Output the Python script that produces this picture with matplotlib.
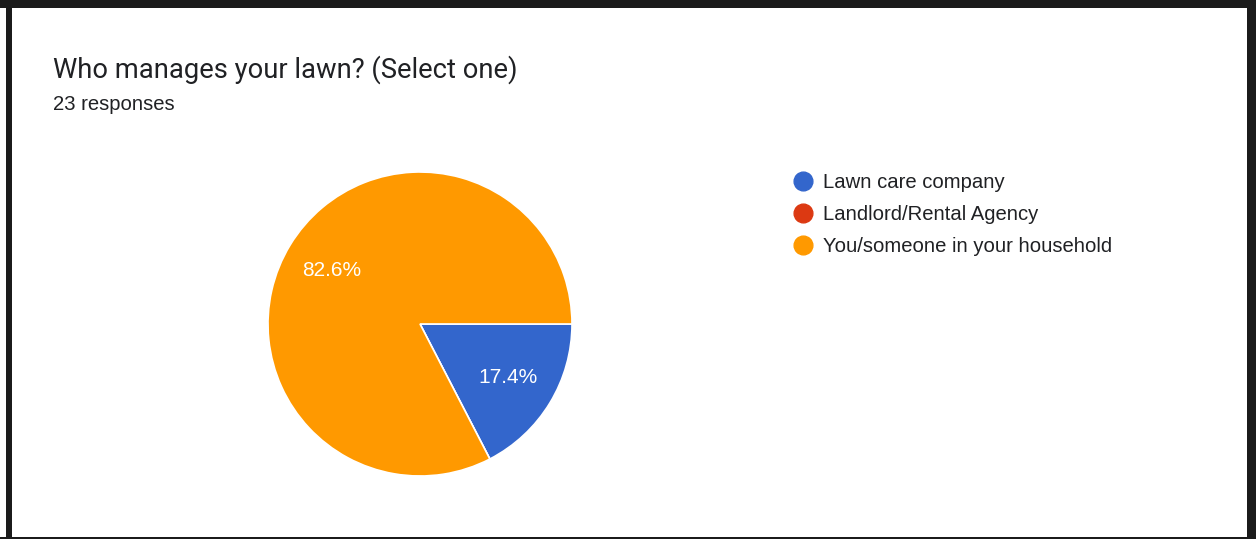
import matplotlib
matplotlib.use("Agg")
import matplotlib.pyplot as plt
from matplotlib.patches import Rectangle
from matplotlib.lines import Line2D

# Data
categories = ["Lawn care company", "Landlord/Rental Agency", "You/someone in your household"]
values = [17.4, 0.0, 82.6]
colors = ["#3366CC", "#DC3912", "#FF9900"]
title = "Who manages your lawn? (Select one)"
subtitle = "23 responses"

W, H = 1256, 539
fig = plt.figure(figsize=(W / 100, H / 100), dpi=100)
fig.patch.set_facecolor("white")

def fx(px):
    return px / W

def fy(py):
    return 1 - py / H

# Border (dark frame)
dark = "#1b1b1b"
for (x0, y0, x1, y1) in [(0, 0, W, 8), (6, 0, 12, H), (1247, 0, W, H), (0, 537, W, H)]:
    fig.add_artist(Rectangle((fx(x0), fy(y1)), fx(x1) - fx(x0), fy(y0) - fy(y1),
                             transform=fig.transFigure, facecolor=dark, edgecolor="none", zorder=10))

# Title
fig.text(fx(53), fy(70), title, fontsize=19.7, family="Roboto", color="#202124",
         va="center", ha="left")
fig.text(fx(53), fy(104), subtitle, fontsize=14.6, family="Liberation Sans", color="#202124",
         va="center", ha="left")

# Pie
cx, cy, r = 420, 324, 152
ax = fig.add_axes([fx(cx - r), fy(cy + r), fx(2 * r), (2 * r) / H])
wedges, texts, autotexts = ax.pie(
    values, colors=colors, startangle=0, counterclock=False,
    autopct=lambda p: f"{p:.1f}%" if p > 0 else "", pctdistance=0.68,
    wedgeprops=dict(edgecolor="white", linewidth=1.2),
    textprops=dict(color="white", fontsize=15, family="Liberation Sans"))
ax.set_xlim(-1, 1)
ax.set_ylim(-1, 1)
ax.set_aspect("equal")
ax.axis("off")

# Legend
lx, ly0, dy = 803, 181, 32
for i, (lab, col) in enumerate(zip(categories, colors)):
    yy = ly0 + i * dy
    fig.add_artist(Line2D([fx(lx)], [fy(yy)], marker="o", markersize=13.5,
                          markerfacecolor=col, markeredgecolor=col, linestyle="none",
                          transform=fig.transFigure))
    fig.text(fx(823), fy(yy + 1), lab, fontsize=14.6, family="Liberation Sans", color="#202124",
             va="center", ha="left")

fig.savefig("out.png", dpi=100)
